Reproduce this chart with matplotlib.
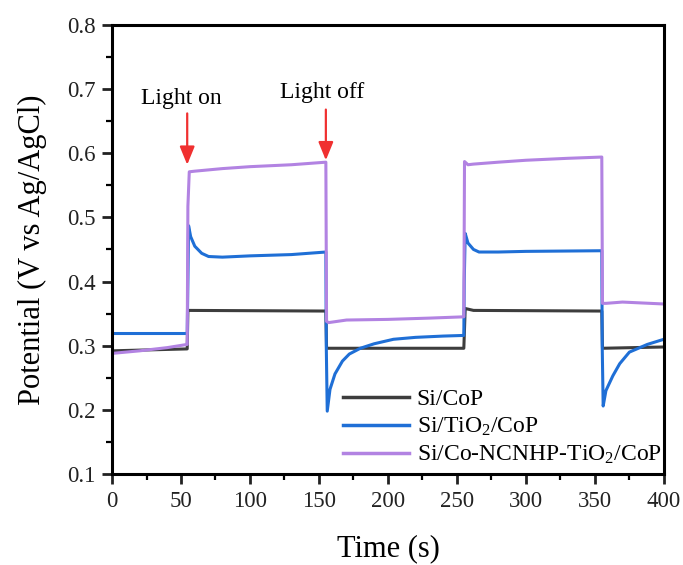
import matplotlib
matplotlib.use("Agg")
import matplotlib.pyplot as plt
from matplotlib.ticker import MultipleLocator

# ---- data ----
t_cop = [0, 54.5, 55, 155, 155.5, 255, 256, 262, 355, 355.5, 400]
v_cop = [0.292, 0.295, 0.355, 0.354, 0.296, 0.296, 0.358, 0.355, 0.354, 0.296, 0.298]

t_tio2 = [0, 54.5, 55, 55.5, 57, 60, 65, 70, 80, 100, 130, 155,
          155.3, 156, 158, 161.6, 167, 172, 180, 190, 204, 220, 240, 255,
          255.3, 256, 258, 262, 266, 280, 300, 355,
          355.3, 356, 358, 363, 368, 375, 388, 400]
v_tio2 = [0.319, 0.319, 0.40, 0.487, 0.470, 0.455, 0.444, 0.439, 0.438, 0.440, 0.442, 0.446,
          0.30, 0.198, 0.232, 0.256, 0.276, 0.287, 0.296, 0.303, 0.310, 0.313, 0.315, 0.316,
          0.40, 0.475, 0.460, 0.450, 0.446, 0.446, 0.447, 0.448,
          0.30, 0.206, 0.230, 0.253, 0.272, 0.290, 0.302, 0.310]

t_ncnhp = [0, 20, 40, 54.5, 55, 56, 60, 80, 100, 130, 155,
           155.5, 157, 170, 200, 230, 255,
           255.5, 258, 262, 280, 300, 330, 355,
           355.5, 358, 370, 400]
v_ncnhp = [0.288, 0.292, 0.297, 0.302, 0.517, 0.571, 0.572, 0.576, 0.579, 0.582, 0.586,
           0.338, 0.336, 0.340, 0.341, 0.343, 0.345,
           0.587, 0.582, 0.583, 0.586, 0.589, 0.592, 0.594,
           0.366, 0.366, 0.368, 0.365]

labels = ["Si/CoP", "Si/TiO$_2$/CoP", "Si/Co-NCNHP-TiO$_2$/CoP"]
colors = ["#3d3d3d", "#1f6fd6", "#b283e2"]

x_ticks = [0, 50, 100, 150, 200, 250, 300, 350, 400]
y_ticks = [0.1, 0.2, 0.3, 0.4, 0.5, 0.6, 0.7, 0.8]

plt.rcParams['font.family'] = ['Liberation Serif', 'DejaVu Serif']
plt.rcParams['mathtext.fontset'] = 'custom'
plt.rcParams['mathtext.rm'] = 'Liberation Serif'
plt.rcParams['mathtext.it'] = 'Liberation Serif'

fig = plt.figure(figsize=(6.83, 5.65), dpi=100)
ax = fig.add_axes([0.164, 0.161, 0.808, 0.795])

for t, v, lab, c in zip([t_cop, t_tio2, t_ncnhp], [v_cop, v_tio2, v_ncnhp], labels, colors):
    ax.plot(t, v, color=c, lw=2.2, label=lab)

ax.set_xlim(0, 400)
ax.set_ylim(0.1, 0.8)
ax.set_xticks(x_ticks)
ax.set_yticks(y_ticks)
ax.set_yticklabels([f"{y:.1f}" for y in y_ticks])
ax.xaxis.set_minor_locator(MultipleLocator(25))
ax.yaxis.set_minor_locator(MultipleLocator(0.05))
ax.tick_params(which='major', direction='out', length=7, width=2, labelsize=16.5, pad=5,
               colors='#222222')
ax.tick_params(which='minor', direction='out', length=4, width=1.6)
ax.tick_params(top=False, right=False, which='both')
for s in ax.spines.values():
    s.set_linewidth(2.2)

ax.set_xlabel("Time (s)", fontsize=22, labelpad=16)
ax.set_ylabel("Potential (V vs Ag/AgCl)", fontsize=22, labelpad=14)

arrow = dict(arrowstyle='-|>,head_length=1.1,head_width=0.45', color='#f03030', lw=1.6,
             shrinkA=0, shrinkB=0)
ax.annotate("", xy=(54.5, 0.582), xytext=(54.5, 0.662), arrowprops=arrow)
ax.annotate("", xy=(155, 0.589), xytext=(155, 0.668), arrowprops=arrow)
ax.text(50, 0.686, "Light on", fontsize=17, ha='center', va='center')
ax.text(152, 0.694, "Light off", fontsize=17, ha='center', va='center')

leg = ax.legend(loc='lower right', frameon=False, fontsize=17, handlelength=2.8,
                handletextpad=0.3, labelspacing=0.25, borderaxespad=0.0, borderpad=0.1,
                bbox_to_anchor=(1.0, 0.012))
for h in leg.get_lines():
    h.set_linewidth(2.5)

fig.savefig("out.png", dpi=100)
